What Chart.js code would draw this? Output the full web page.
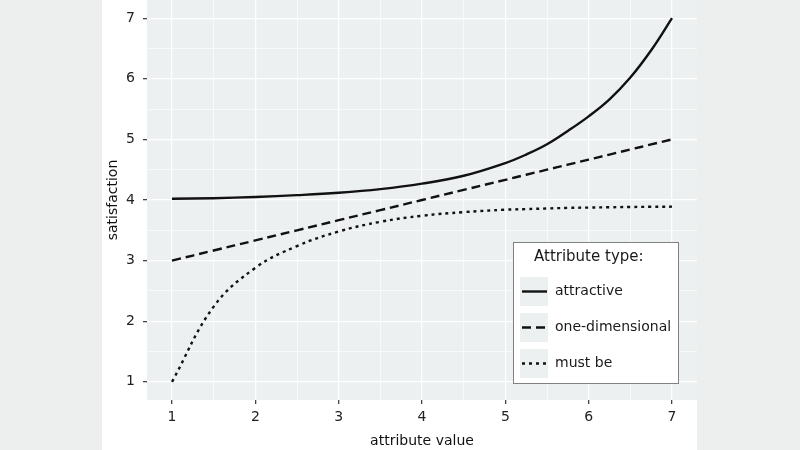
<!DOCTYPE html>
<html>
<head>
<meta charset="utf-8">
<script src="https://cdn.jsdelivr.net/npm/chart.js@4"></script>
<style>
html,body{margin:0;padding:0;background:#edefef}
</style>
</head>
<body>
<canvas id="grafica" width="800" height="450"></canvas>
<script>
// valores
const valoresX = [1, 1.5, 2, 2.5, 3, 3.5, 4, 4.5, 5, 5.25, 5.5, 5.75, 6, 6.25, 6.5, 6.75, 7]
const atractivo = [4.02, 4.03, 4.05, 4.08, 4.12, 4.18, 4.27, 4.40, 4.61, 4.75, 4.92, 5.14, 5.38, 5.66, 6.02, 6.47, 7.0]
const unidimensional = [3.0, 3.167, 3.333, 3.5, 3.667, 3.833, 4.0, 4.167, 4.333, 4.417, 4.5, 4.583, 4.667, 4.75, 4.833, 4.917, 5.0]
const obligatorio = [1.0, 2.24, 2.88, 3.24, 3.48, 3.64, 3.74, 3.80, 3.84, 3.85, 3.86, 3.87, 3.875, 3.88, 3.885, 3.888, 3.89]
const nombres = ['attractive', 'one-dimensional', 'must be']
const ticksX = [1, 2, 3, 4, 5, 6, 7]
const ticksY = [1, 2, 3, 4, 5, 6, 7]
const tituloLeyenda = 'Attribute type:'

const puntos = ys => valoresX.map((x, i) => ({x: x, y: ys[i]}))
const conMedios = t => t.concat(t.slice(1).map(v => v - 0.5)).sort((a, b) => a - b)

const fuente = '"DejaVu Sans", Verdana, sans-serif'
const gris = '#edf0f0'

const fondo = {
    id: 'fondo',
    beforeDraw(chart) {
        const c = chart.ctx
        const a = chart.chartArea
        c.save()
        c.fillStyle = '#edefef'
        c.fillRect(0, 0, 800, 450)
        c.fillStyle = '#ffffff'
        c.fillRect(102, 0, a.right - 102, 450)
        c.fillStyle = gris
        c.fillRect(a.left, a.top, a.right - a.left, a.bottom - a.top)
        c.restore()
    }
}

const leyenda = {
    id: 'leyenda',
    afterDraw(chart) {
        const c = chart.ctx
        c.save()
        c.fillStyle = '#ffffff'
        c.fillRect(513, 242, 165, 142)
        c.strokeStyle = '#808080'
        c.lineWidth = 1
        c.strokeRect(513.5, 242.5, 165, 141)
        c.fillStyle = '#1a1a1a'
        c.font = '15px ' + fuente
        c.textBaseline = 'middle'
        c.fillText(tituloLeyenda, 534, 257)
        chart.data.datasets.forEach((ds, i) => {
            const y = 277 + i * 36
            c.fillStyle = gris
            c.fillRect(520, y, 28, 29)
            c.strokeStyle = ds.borderColor
            c.lineWidth = ds.borderWidth
            c.setLineDash(ds.borderDash)
            c.beginPath()
            c.moveTo(522, y + 14.5)
            c.lineTo(547, y + 14.5)
            c.stroke()
            c.setLineDash([])
            c.fillStyle = '#1a1a1a'
            c.font = '14px ' + fuente
            c.fillText(ds.label, 555, y + 14.5)
        })
        c.restore()
    }
}

const serie = (nombre, datos, guiones) => ({
    label: nombre,
    data: puntos(datos),
    borderColor: '#111111',
    borderWidth: 2.4,
    borderDash: guiones,
    pointRadius: 0,
    fill: false,
    tension: 0.4
})

const ejeGrid = marcas => ({
    color: '#ffffff',
    lineWidth: ctx => marcas.includes(ctx.tick.value) ? 1.3 : 0.6,
    tickColor: ctx => marcas.includes(ctx.tick.value) ? '#444444' : 'rgba(0,0,0,0)',
    tickLength: 4,
    drawOnChartArea: true
})

const grafica = new Chart(document.getElementById('grafica'), {
    type: 'line',
    data: {
        datasets: [
            serie(nombres[0], atractivo, []),
            serie(nombres[1], unidimensional, [9, 5]),
            serie(nombres[2], obligatorio, [3, 4])
        ]
    },
    options: {
        responsive: false,
        animation: false,
        layout: {padding: {left: 102, right: 103, top: 0, bottom: 0}},
        plugins: {legend: {display: false}, tooltip: {enabled: false}},
        scales: {
            x: {
                type: 'linear',
                min: 0.7,
                max: 7.3,
                afterBuildTicks: s => { s.ticks = conMedios(ticksX).map(v => ({value: v})) },
                afterFit: s => { s.height = 50; s.paddingLeft = 0; s.paddingRight = 0 },
                border: {display: false},
                grid: ejeGrid(ticksX),
                ticks: {
                    autoSkip: false,
                    maxRotation: 0,
                    padding: 5,
                    color: '#222222',
                    font: {family: fuente, size: 14},
                    callback: v => ticksX.includes(v) ? String(v) : ''
                },
                title: {
                    display: true,
                    text: 'attribute value',
                    color: '#111111',
                    font: {family: fuente, size: 14},
                    padding: {top: 4, bottom: 0}
                }
            },
            y: {
                type: 'linear',
                min: 0.7,
                max: 7.3,
                afterBuildTicks: s => { s.ticks = conMedios(ticksY).map(v => ({value: v})) },
                afterFit: s => { s.width = 45; s.paddingTop = 0; s.paddingBottom = 0 },
                border: {display: false},
                grid: ejeGrid(ticksY),
                ticks: {
                    autoSkip: false,
                    padding: 8,
                    color: '#222222',
                    font: {family: fuente, size: 14},
                    callback: v => ticksY.includes(v) ? String(v) : ''
                },
                title: {
                    display: true,
                    text: 'satisfaction',
                    color: '#111111',
                    font: {family: fuente, size: 14},
                    padding: {top: 3, bottom: 0}
                }
            }
        }
    },
    plugins: [fondo, leyenda]
})
</script>
</body>
</html>
